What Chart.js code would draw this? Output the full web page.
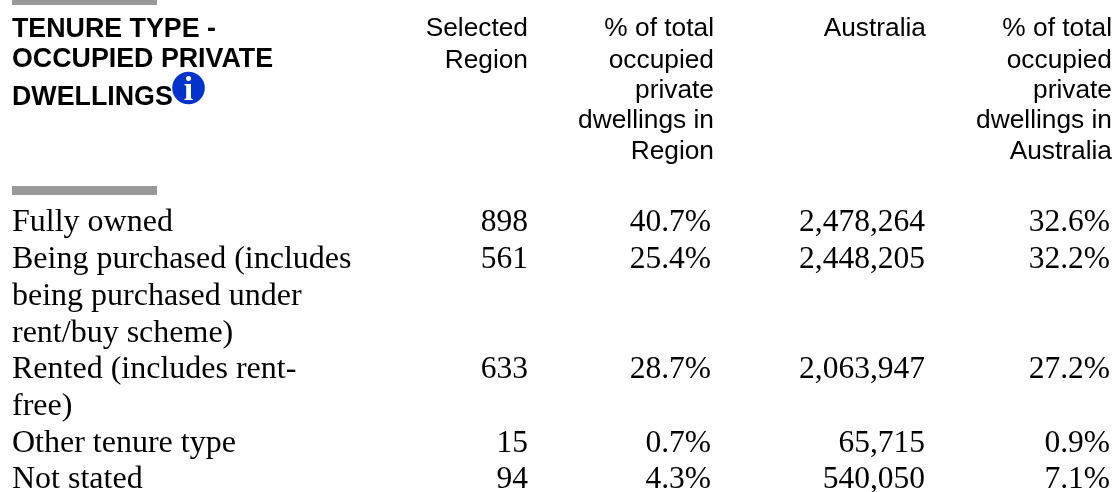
<!DOCTYPE html>
<html lang="en">
<head>
  <meta charset="UTF-8" />
  <title>Tenure type - occupied private dwellings</title>
  <script src="https://cdn.jsdelivr.net/npm/chart.js"></script>
  <style>
    html, body { margin: 0; padding: 0; background: #fff; }
    canvas { display: block; }
  </style>
</head>
<body>
  <canvas id="tenureChart" width="1117" height="492"></canvas>

  <script>
    // table contents
    const titleLines = ["TENURE TYPE -", "OCCUPIED PRIVATE", "DWELLINGS"];
    const regionHead = ["Selected", "Region"];
    const regionPctHead = ["% of total", "occupied", "private", "dwellings in", "Region"];
    const australiaHead = ["Australia"];
    const australiaPctHead = ["% of total", "occupied", "private", "dwellings in", "Australia"];

    const categories = [
      ["Fully owned"],
      ["Being purchased (includes", "being purchased under", "rent/buy scheme)"],
      ["Rented (includes rent-", "free)"],
      ["Other tenure type"],
      ["Not stated"]
    ];
    const regionCounts = [898, 561, 633, 15, 94];
    const regionPct = [40.7, 25.4, 28.7, 0.7, 4.3];
    const australiaCounts = [2478264, 2448205, 2063947, 65715, 540050];
    const australiaPct = [32.6, 32.2, 27.2, 0.9, 7.1];

    // layout, in canvas units of the hidden scales
    const headFont = "26.3px 'Liberation Sans'";
    const titleFont = "bold 26.8px 'Liberation Sans'";
    const bodyFont = "32px 'Liberation Serif'";
    const numFont = "31.5px 'Liberation Serif'";
    const titleY = [37, 67, 105];
    const headY = [36, 68, 98, 128, 159];
    const rowY = [231, 268, 378, 452, 488];
    const lineStep = 36.8;
    const headRight = [528, 714, 926, 1112];
    const bodyRight = [528, 711, 925, 1110];

    const count = v => v.toLocaleString("en-US");
    const pct = v => v.toFixed(1) + "%";

    function textColumn(x, ys, texts, font, align) {
      return {
        type: "scatter",
        data: ys.map(y => ({ x, y })),
        texts, font, align, color: "#000",
        pointRadius: 0
      };
    }

    function bar(y, width) {
      return {
        type: "scatter", showLine: true,
        data: [{ x: 12, y }, { x: 157, y }],
        borderColor: "#999999", borderWidth: width, pointRadius: 0
      };
    }

    // first column: each category may wrap over several lines
    const catTexts = [];
    const catY = [];
    categories.forEach((lines, i) => lines.forEach((line, j) => {
      catTexts.push(line);
      catY.push(rowY[i] + j * lineStep);
    }));

    const datasets = [
      bar(0, 10),
      bar(190.5, 9),
      textColumn(12, titleY, titleLines, titleFont, "left"),
      textColumn(headRight[0], headY.slice(0, 2), regionHead, headFont, "right"),
      textColumn(headRight[1], headY, regionPctHead, headFont, "right"),
      textColumn(headRight[2], headY.slice(0, 1), australiaHead, headFont, "right"),
      textColumn(headRight[3], headY, australiaPctHead, headFont, "right"),
      textColumn(12, catY, catTexts, bodyFont, "left"),
      textColumn(bodyRight[0], rowY, regionCounts.map(count), numFont, "right"),
      textColumn(bodyRight[1], rowY, regionPct.map(pct), numFont, "right"),
      textColumn(bodyRight[2], rowY, australiaCounts.map(count), numFont, "right"),
      textColumn(bodyRight[3], rowY, australiaPct.map(pct), numFont, "right"),
      // info icon next to the title
      {
        type: "scatter",
        data: [{ x: 188.5, y: 88 }],
        texts: ["i"], font: "bold 34px 'Liberation Serif'", align: "center", color: "#fff",
        textDy: 12,
        pointRadius: 16.3, pointBackgroundColor: "#0033cc", pointBorderWidth: 0
      }
    ];

    // draws the table text at the points the scales worked out
    const tableText = {
      id: "tableText",
      afterDatasetsDraw(chart) {
        const ctx = chart.ctx;
        chart.data.datasets.forEach((ds, d) => {
          if (!ds.texts) return;
          ctx.save();
          ctx.font = ds.font;
          ctx.fillStyle = ds.color;
          ctx.textAlign = ds.align;
          ctx.textBaseline = "alphabetic";
          chart.getDatasetMeta(d).data.forEach((pt, i) => {
            ctx.fillText(ds.texts[i], pt.x, pt.y + (ds.textDy || 0));
          });
          ctx.restore();
        });
      }
    };

    new Chart(document.getElementById("tenureChart"), {
      type: "scatter",
      data: { datasets },
      plugins: [tableText],
      options: {
        responsive: false,
        animation: false,
        layout: { padding: 0, autoPadding: false },
        plugins: { legend: { display: false }, tooltip: { enabled: false } },
        scales: {
          x: { type: "linear", min: 0, max: 1117, display: false },
          y: { type: "linear", min: 0, max: 492, reverse: true, display: false }
        }
      }
    });
  </script>
</body>
</html>
